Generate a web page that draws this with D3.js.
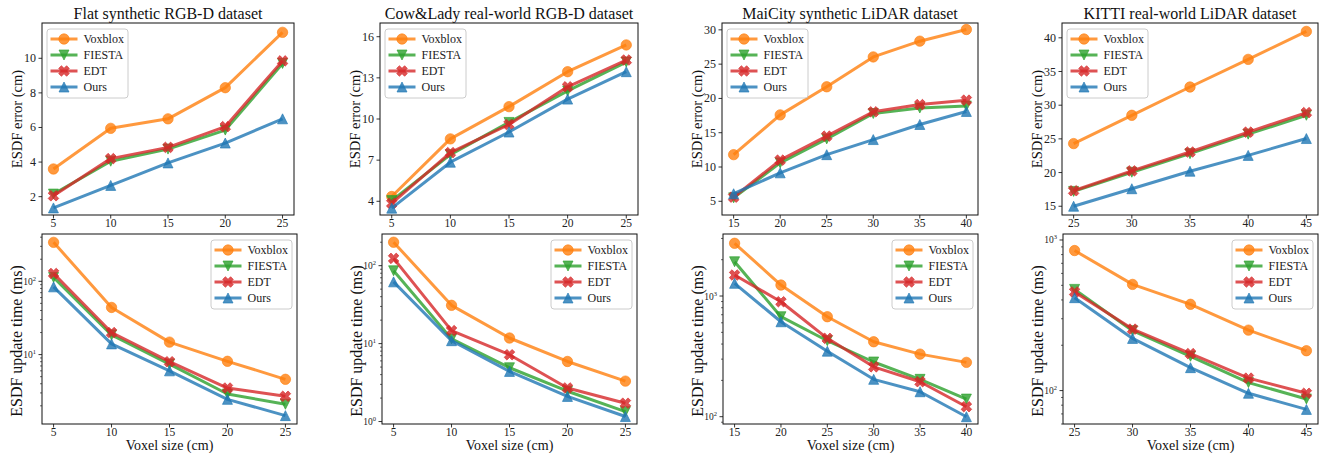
<!DOCTYPE html>
<html><head><meta charset="utf-8">
<script src="https://cdn.jsdelivr.net/npm/d3@7"></script>
<style>
body{margin:0;background:#fff;}
svg{display:block;}
svg text{font-family:"Liberation Serif","Times New Roman",serif;}
</style>
</head><body><svg id="c" width="1321" height="453"></svg>
<script>
// ---------- data ----------
const methods = ["Voxblox", "FIESTA", "EDT", "Ours"];
const titles = ["Flat synthetic RGB-D dataset", "Cow&Lady real-world RGB-D dataset",
                "MaiCity synthetic LiDAR dataset", "KITTI real-world LiDAR dataset"];
const voxelFlat  = [5, 10, 15, 20, 25];
const voxelCow   = [5, 10, 15, 20, 25];
const voxelMai   = [15, 20, 25, 30, 35, 40];
const voxelKitti = [25, 30, 35, 40, 45];

// ESDF error (cm): rows = Voxblox, FIESTA, EDT, Ours
const flatError  = [[3.6, 5.95, 6.5, 8.3, 11.5], [2.15, 4.05, 4.75, 5.85, 9.7],
                    [2.05, 4.2, 4.85, 6.05, 9.85], [1.35, 2.65, 3.95, 5.1, 6.5]];
const cowError   = [[4.35, 8.55, 10.9, 13.45, 15.4], [4.05, 7.4, 9.75, 12.05, 14.15],
                    [3.85, 7.55, 9.6, 12.35, 14.3], [3.5, 6.85, 9.05, 11.45, 13.45]];
const maiError   = [[11.8, 17.6, 21.7, 26.05, 28.35, 30.05], [5.5, 10.6, 14.1, 17.8, 18.6, 18.9],
                    [5.6, 11.0, 14.5, 18.05, 19.1, 19.75], [6.1, 9.15, 11.8, 14.0, 16.2, 18.1]];
const kittiError = [[24.3, 28.5, 32.7, 36.8, 40.95], [17.2, 20.05, 22.8, 25.7, 28.5],
                    [17.3, 20.25, 23.05, 26.0, 28.9], [15.0, 17.6, 20.2, 22.55, 25.05]];

// ESDF update time (ms)
const flatTime  = [[340, 44, 14.8, 8.1, 4.6], [113, 18.5, 7.4, 2.9, 2.1],
                   [128, 20, 8.0, 3.5, 2.7], [84, 14, 6.0, 2.45, 1.47]];
const cowTime   = [[200, 31, 11.8, 5.9, 3.3], [86, 11.5, 4.9, 2.45, 1.34],
                   [124, 14.7, 7.2, 2.7, 1.72], [62, 10.9, 4.4, 2.1, 1.16]];
const maiTime   = [[2735, 1233, 674, 418, 330, 282], [1923, 674, 426, 284, 204, 140],
                   [1493, 897, 446, 259, 195, 121], [1274, 612, 349, 204, 161, 100]];
const kittiTime = [[851, 507, 374, 252, 184], [470, 250, 169, 113, 88],
                   [452, 256, 176, 121, 96], [414, 222, 142, 96, 75]];

const errorTicks = [[2, 4, 6, 8, 10], [4, 7, 10, 13, 16], [5, 10, 15, 20, 25, 30], [15, 20, 25, 30, 35, 40]];
const errorDomains = [[0.94, 12.04], [3, 17], [3, 31], [13.7, 42.2]];
const timeDomains = [[1.13, 442], [0.93, 255], [87, 3266], [60, 1096]];

// ---------- styling / layout ----------
const FONT = '"Liberation Serif","Times New Roman",serif';
const colors = ["#ff7f0e", "#2ca02c", "#d62728", "#1f77b4"];
const markerKinds = ["circle", "down", "x", "up"];
const topBoxes = [[42, 23, 294, 215], [380, 23, 638, 215], [722, 23, 978, 215], [1062, 23, 1318, 215]];
const botBoxes = [[42, 234, 297, 424], [382, 234, 637, 424], [723, 234, 978, 424], [1063, 234, 1318, 424]];

const svg = d3.select("#c");

function markerPath(kind) {
  const r = 5;
  if (kind === "circle") return d3.symbol(d3.symbolCircle, Math.PI * 5.2 * 5.2)();
  if (kind === "up") return `M0,${-r}L${-r},${r}L${r},${r}Z`;
  if (kind === "down") return `M0,${r}L${-r},${-r}L${r},${-r}Z`;
  const a = 1.9, b = 5.6;
  const pts = [[-a,-b],[a,-b],[a,-a],[b,-a],[b,a],[a,a],[a,b],[-a,b],[-a,a],[-b,a],[-b,-a],[-a,-a]];
  const c = Math.SQRT1_2;
  return "M" + pts.map(([x, y]) => [(x - y) * c, (x + y) * c].map(v => v.toFixed(2)).join(",")).join("L") + "Z";
}

function txt(sel) { return sel.append("text").attr("font-family", FONT); }

function drawPanel(box, xs, series, isLog, yDomain, yTicks, title, ylabel, xlabel, legendRight, ylabelSize, ylabelShift) {
  const [x0, y0, x1, y1] = box;
  const g = svg.append("g");
  const xmin = d3.min(xs), xmax = d3.max(xs), pad = (xmax - xmin) * 0.05;
  const x = d3.scaleLinear().domain([xmin - pad, xmax + pad]).range([x0, x1]);
  const y = (isLog ? d3.scaleLog() : d3.scaleLinear()).domain(yDomain).range([y1, y0]);

  xs.forEach(v => {
    g.append("line").attr("x1", x(v)).attr("x2", x(v)).attr("y1", y1).attr("y2", y1 + 3.5)
      .attr("stroke", "#000").attr("stroke-width", 0.8);
    txt(g).attr("x", x(v)).attr("y", y1 + 12).attr("text-anchor", "middle")
      .attr("font-size", 11.5).attr("fill", "#222").text(v);
  });

  if (!isLog) {
    yTicks.forEach(v => {
      g.append("line").attr("x1", x0 - 3.5).attr("x2", x0).attr("y1", y(v)).attr("y2", y(v))
        .attr("stroke", "#000").attr("stroke-width", 0.8);
      txt(g).attr("x", x0 - 6).attr("y", y(v) + 4).attr("text-anchor", "end")
        .attr("font-size", 12).attr("fill", "#222").text(v);
    });
  } else {
    const lo = Math.floor(Math.log10(yDomain[0])), hi = Math.ceil(Math.log10(yDomain[1]));
    for (let e = lo; e <= hi; e++) {
      for (let m = 1; m <= 9; m++) {
        const v = m * Math.pow(10, e);
        if (v < yDomain[0] || v > yDomain[1]) continue;
        const major = m === 1;
        g.append("line").attr("x1", x0 - (major ? 3.5 : 2)).attr("x2", x0)
          .attr("y1", y(v)).attr("y2", y(v)).attr("stroke", "#000").attr("stroke-width", major ? 0.8 : 0.6);
        if (major) {
          const t = txt(g).attr("x", x0 - 6).attr("y", y(v) + 3.5).attr("text-anchor", "end").attr("fill", "#222");
          t.append("tspan").attr("font-size", 9.5).text("10");
          t.append("tspan").attr("font-size", 6.5).attr("dy", -4).text(e);
        }
      }
    }
  }

  const cid = "clip" + Math.round(x0) + "_" + Math.round(y0);
  g.append("clipPath").attr("id", cid).append("rect").attr("x", x0).attr("y", y0)
    .attr("width", x1 - x0).attr("height", y1 - y0);
  const plot = g.append("g").attr("clip-path", `url(#${cid})`);
  const line = d3.line().x((d, i) => x(xs[i])).y(d => y(d));

  series.forEach((vals, k) => {
    plot.append("path").attr("d", line(vals)).attr("fill", "none").attr("stroke", colors[k])
      .attr("stroke-width", 3).attr("stroke-opacity", 0.8).attr("stroke-linejoin", "round");
    vals.forEach((v, i) => {
      plot.append("path").attr("d", markerPath(markerKinds[k]))
        .attr("transform", `translate(${x(xs[i])},${y(v)})`)
        .attr("fill", colors[k]).attr("fill-opacity", 0.8)
        .attr("stroke", colors[k]).attr("stroke-opacity", 0.8).attr("stroke-width", 0.8);
    });
  });

  g.append("rect").attr("x", x0).attr("y", y0).attr("width", x1 - x0).attr("height", y1 - y0)
    .attr("fill", "none").attr("stroke", "#111").attr("stroke-width", 1);

  const lw = 81, lh = 69;
  const lx = legendRight ? x1 - 5 - lw : x0 + 5;
  const ly = y0 + 6;
  const lg = g.append("g");
  lg.append("rect").attr("x", lx).attr("y", ly).attr("width", lw).attr("height", lh).attr("rx", 3)
    .attr("fill", "#fff").attr("fill-opacity", 0.8).attr("stroke", "#ccc").attr("stroke-width", 1);
  methods.forEach((m, k) => {
    const cy = ly + 10 + k * 16;
    lg.append("line").attr("x1", lx + 3.5).attr("x2", lx + 30.5).attr("y1", cy).attr("y2", cy)
      .attr("stroke", colors[k]).attr("stroke-width", 3).attr("stroke-opacity", 0.8);
    lg.append("path").attr("d", markerPath(markerKinds[k])).attr("transform", `translate(${lx + 17},${cy})`)
      .attr("fill", colors[k]).attr("fill-opacity", 0.8)
      .attr("stroke", colors[k]).attr("stroke-opacity", 0.8).attr("stroke-width", 0.8);
    txt(lg).attr("x", lx + 36.5).attr("y", cy + 4).attr("font-size", 12).attr("fill", "#222").text(m);
  });

  if (title) {
    txt(g).attr("x", (x0 + x1) / 2).attr("y", y0 - 4).attr("text-anchor", "middle")
      .attr("font-size", 16).attr("fill", "#111").text(title);
  }
  txt(g).attr("transform", `translate(${x0 - 20},${(y0 + y1) / 2 + ylabelShift}) rotate(-90)`)
    .attr("text-anchor", "middle").attr("font-size", ylabelSize).attr("fill", "#111").text(ylabel);
  if (xlabel) {
    txt(g).attr("x", (x0 + x1) / 2).attr("y", y1 + 26).attr("text-anchor", "middle")
      .attr("font-size", 14).attr("fill", "#111").text(xlabel);
  }
}

const voxels = [voxelFlat, voxelCow, voxelMai, voxelKitti];
const errors = [flatError, cowError, maiError, kittiError];
const times = [flatTime, cowTime, maiTime, kittiTime];

for (let p = 0; p < 4; p++) {
  drawPanel(topBoxes[p], voxels[p], errors[p], false, errorDomains[p], errorTicks[p],
            titles[p], "ESDF error (cm)", null, false, 14.5, 0);
  drawPanel(botBoxes[p], voxels[p], times[p], true, timeDomains[p], null,
            null, "ESDF update time (ms)", "Voxel size (cm)", true, 16, 12);
}
</script>
</body></html>
